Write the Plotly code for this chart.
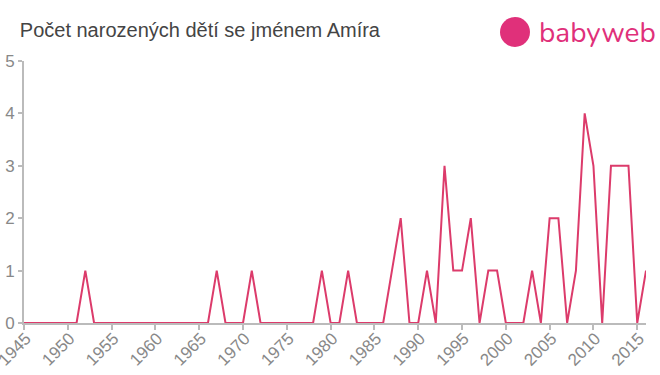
import plotly.graph_objects as go

years = list(range(1945, 2017))
counts = [0, 0, 0, 0, 0, 0, 0, 1, 0, 0,   # 1945-1954
          0, 0, 0, 0, 0, 0, 0, 0, 0, 0,   # 1955-1964
          0, 0, 1, 0, 0, 0, 1, 0, 0, 0,   # 1965-1974
          0, 0, 0, 0, 1, 0, 0, 1, 0, 0,   # 1975-1984
          0, 0, 1, 2, 0, 0, 1, 0, 3, 1,   # 1985-1994
          1, 2, 0, 1, 1, 0, 0, 0, 1, 0,   # 1995-2004
          2, 2, 0, 1, 4, 3, 0, 3, 3, 3,   # 2005-2014
          0, 1]                           # 2015-2016
x_ticks = list(range(1945, 2016, 5))
y_ticks = [0, 1, 2, 3, 4, 5]
title_text = "Počet narozených dětí se jménem Amíra"

fig = go.Figure()
fig.add_trace(go.Scatter(x=years, y=counts, mode="lines",
                         line=dict(color="#dc3b6b", width=2), hoverinfo="x+y"))

fig.update_layout(
    width=660, height=375,
    margin=dict(l=24, r=14, t=61, b=52, autoexpand=False),
    paper_bgcolor="white", plot_bgcolor="white",
    showlegend=False,
    font=dict(family="Liberation Sans, Arial, sans-serif", color="#888"),
    title=dict(text=title_text, x=0.03, xanchor="left", y=0.92, yanchor="middle",
               font=dict(size=20, color="#444")),
    xaxis=dict(range=[1945, 2016], tickvals=x_ticks, tickangle=-45, automargin=False,
               ticklabeloverflow="allow", ticklabelstandoff=-8, ticklabelshift=2,
               showgrid=False, zeroline=False, showline=True, linecolor="#bbb", linewidth=2,
               ticks="outside", ticklen=5, tickcolor="#bbb", tickwidth=2,
               tickfont=dict(size=17, color="#888")),
    yaxis=dict(range=[0, 5], tickvals=y_ticks, automargin=False,
               showgrid=False, zeroline=False, showline=True, linecolor="#bbb", linewidth=2,
               ticks="outside", ticklen=4, tickcolor="#bbb", tickwidth=2,
               tickfont=dict(size=17, color="#888")),
)

# babyweb logo
fig.add_shape(type="circle", xref="paper", yref="paper",
              x0=(500-24)/622, x1=(530-24)/622, y0=(375-47-52)/262, y1=(375-17-52)/262,
              fillcolor="#e0307a", line=dict(width=0), layer="above")
fig.add_annotation(text="babyweb", xref="paper", yref="paper",
                   x=(537-24)/622, y=(375-33-52)/262, xanchor="left", yanchor="middle",
                   showarrow=False, font=dict(size=28, color="#e0307a",
                                              family="Nunito, Lato, Open Sans, sans-serif"))

fig.write_html("out.html")
